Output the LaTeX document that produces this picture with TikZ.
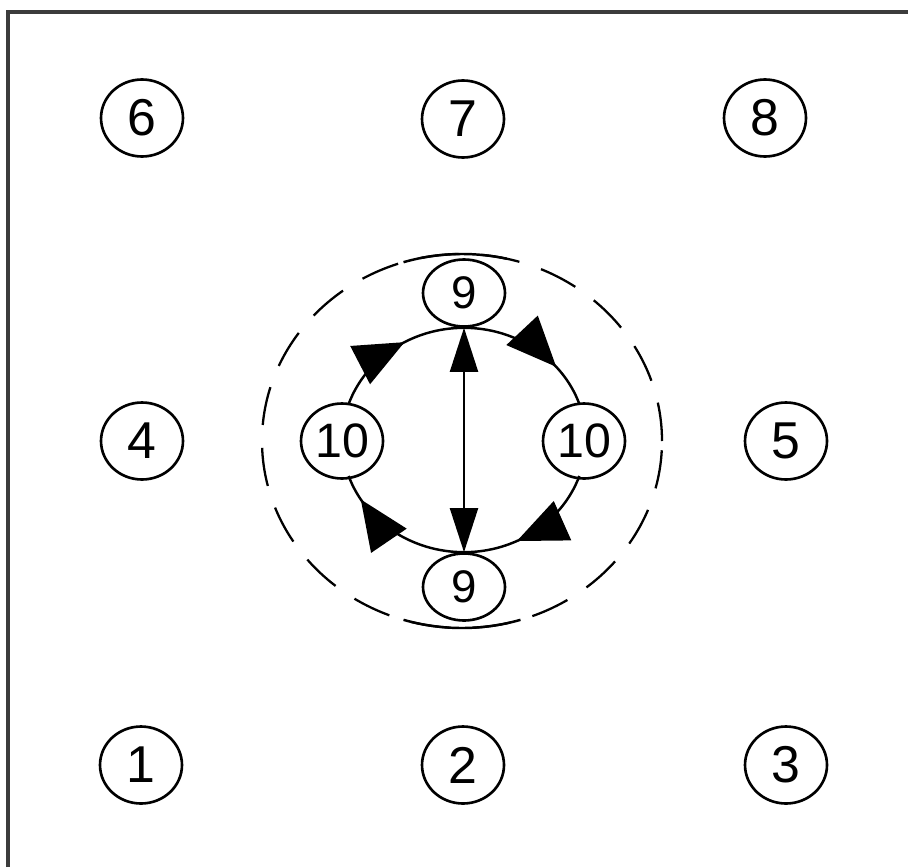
\documentclass[tikz,border=0pt]{standalone}
\usepackage{fontspec}
\setmainfont{Liberation Sans}
\usetikzlibrary{shapes.geometric, arrows.meta, decorations.markings}

\definecolor{edgegray}{HTML}{3C3C3C}

\tikzset{
	site/.style={ellipse, draw, line width=1.5pt, inner sep=0pt,
		minimum width=1.64cm, minimum height=1.54cm,
		font=\fontsize{29.5}{30}\selectfont},
	ring/.style={line width=1.4pt},
	flow/.style={ring, postaction={decorate}, decoration={markings,
		mark=at position #1 with {\arrow{Triangle[length=1.0cm, width=0.85cm]}}}},
	backflow/.style={ring, postaction={decorate}, decoration={markings,
		mark=at position #1 with {\arrowreversed{Triangle[length=1.0cm, width=0.85cm]}}}}
}

\begin{document}
\begin{tikzpicture}[x=0.02cm, y=0.02cm]
		\useasboundingbox (0, 0) rectangle (908, 867);
		\draw [line width=2.4pt, edgegray] (8, 0) -- (8, 855) -- (908, 855);

		\node [site] (n6) at (142, 749) {6};
		\node [site] (n7) at (463, 748) {7};
		\node [site] (n8) at (765, 749) {8};

		\node [site] (n4) at (142, 426) {4};
		\node [site] (n5) at (786, 426) {5};

		\node [site] (n1) at (141, 102) {1};
		\node [site] (n2) at (463, 102) {2};
		\node [site] (n3) at (786, 102) {3};

		\node [site, minimum height=1.34cm, font=\fontsize{26}{27}\selectfont]
		(n9t) at (464, 574) {9};
		\node [site, minimum height=1.34cm, font=\fontsize{26}{27}\selectfont]
		(n9b) at (464, 280) {9};
		\node [site, minimum height=1.5cm, font=\fontsize{27.5}{28}\selectfont]
		(n10l) at (342, 426) {10};
		\node [site, minimum height=1.5cm, font=\fontsize{27.5}{28}\selectfont]
		(n10r) at (584, 426) {10};

		% outer loop
		\coordinate (hub) at (462, 426);
		\draw [line width=1.3pt, dash pattern=on 22pt off 13pt] (hub) ellipse
		[x radius=200, y radius=187];
		\draw [ring] (hub) ++(77:200 and 187) arc [start angle=77,
		end angle=107, x radius=200, y radius=187];
		\draw [ring] (hub) ++(253:200 and 187) arc [start angle=253,
		end angle=287, x radius=200, y radius=187];

		% inner loop
		\draw [flow=0.7] (n9t.south) arc [start angle=90, end angle=19,
		x radius=122, y radius=113];
		\draw [backflow=0.37] (n9b.north) arc [start angle=270, end angle=341,
		x radius=122, y radius=113];
		\draw [flow=0.82] (n9b.north) arc [start angle=270, end angle=199,
		x radius=122, y radius=113];
		\draw [backflow=0.42] (n9t.south) arc [start angle=90, end angle=161,
		x radius=122, y radius=113];

		\draw [line width=1.2pt, {Triangle[length=0.88cm, width=0.56cm]}-{Triangle[length=0.88cm, width=0.56cm]}]
		(n9t) -- (n9b);
	\end{tikzpicture}
\end{document}
